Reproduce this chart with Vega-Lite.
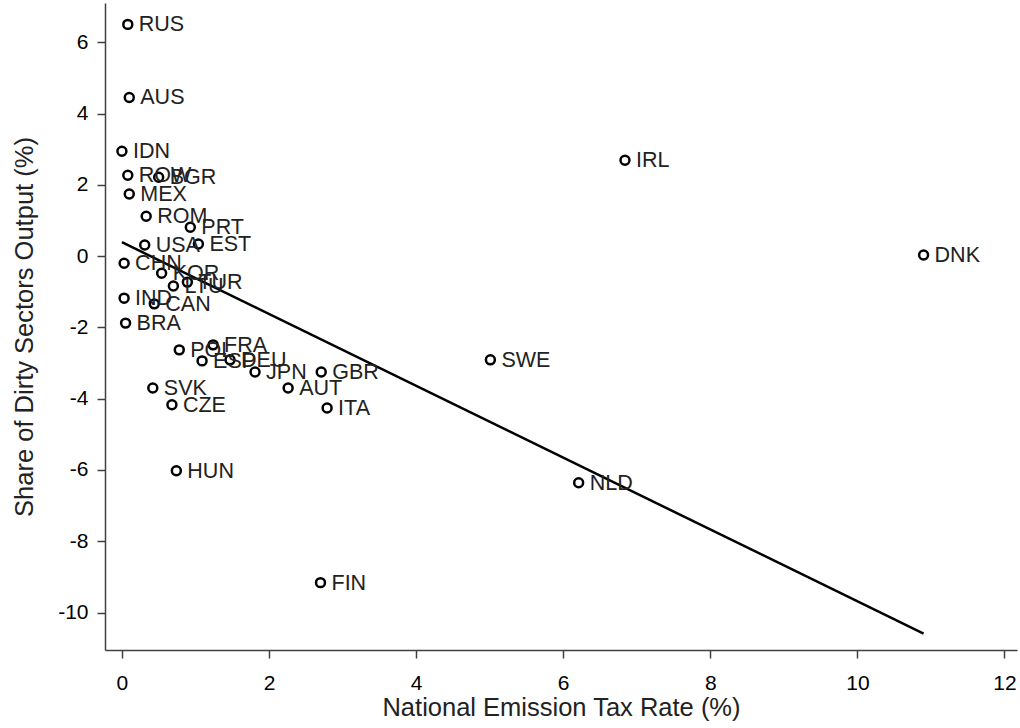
{
  "$schema": "https://vega.github.io/schema/vega-lite/v6.json",
  "width": 912,
  "height": 647,
  "autosize": {"type": "none"},
  "padding": {"left": 105, "top": 3, "right": 3, "bottom": 78},
  "background": "white",
  "config": {
    "view": {"stroke": null},
    "font": "Liberation Sans",
    "axis": {"grid": false, "domainColor": "#404040", "tickColor": "#404040", "domainWidth": 1.5, "tickWidth": 1.5, "tickSize": 8, "labelFont": "Liberation Sans", "titleFont": "Liberation Sans", "labelFontSize": 21, "titleFontSize": 25.5, "labelColor": "#000", "titleColor": "#222", "titleFontWeight": "normal"}
  },
  "datasets": {
    "pts": [
      {"c": "RUS", "x": 0.08, "y": 6.5},
      {"c": "AUS", "x": 0.1, "y": 4.45},
      {"c": "IDN", "x": 0.0, "y": 2.94},
      {"c": "ROW", "x": 0.08, "y": 2.27},
      {"c": "BGR", "x": 0.5, "y": 2.21},
      {"c": "MEX", "x": 0.1, "y": 1.74},
      {"c": "ROM", "x": 0.33, "y": 1.12},
      {"c": "PRT", "x": 0.93, "y": 0.81},
      {"c": "USA", "x": 0.31, "y": 0.31},
      {"c": "EST", "x": 1.04, "y": 0.34},
      {"c": "CHN", "x": 0.03, "y": -0.2},
      {"c": "KOR", "x": 0.54, "y": -0.48},
      {"c": "TUR", "x": 0.89, "y": -0.73},
      {"c": "LTU", "x": 0.7, "y": -0.84},
      {"c": "IND", "x": 0.03, "y": -1.18},
      {"c": "CAN", "x": 0.44, "y": -1.34},
      {"c": "BRA", "x": 0.05, "y": -1.88},
      {"c": "FRA", "x": 1.24, "y": -2.49},
      {"c": "POL", "x": 0.78, "y": -2.63},
      {"c": "ESP", "x": 1.09, "y": -2.94},
      {"c": "DEU", "x": 1.47, "y": -2.91},
      {"c": "JPN", "x": 1.81, "y": -3.25},
      {"c": "GBR", "x": 2.71, "y": -3.25},
      {"c": "AUT", "x": 2.26, "y": -3.7},
      {"c": "ITA", "x": 2.79, "y": -4.26},
      {"c": "SVK", "x": 0.42, "y": -3.7},
      {"c": "CZE", "x": 0.68, "y": -4.17},
      {"c": "HUN", "x": 0.74, "y": -6.02},
      {"c": "FIN", "x": 2.7, "y": -9.16},
      {"c": "NLD", "x": 6.21, "y": -6.36},
      {"c": "SWE", "x": 5.01, "y": -2.91},
      {"c": "IRL", "x": 6.84, "y": 2.69},
      {"c": "DNK", "x": 10.9, "y": 0.03}
    ],
    "fit": [
      {"x": 0.0, "y": 0.39},
      {"x": 10.9, "y": -10.59}
    ]
  },
  "layer": [
    {
      "data": {"name": "fit"},
      "mark": {"type": "line", "color": "#000", "strokeWidth": 2.5, "clip": true},
      "encoding": {
        "x": {"field": "x", "type": "quantitative", "scale": {"domain": [-0.23, 12.17], "nice": false, "zero": false},
          "axis": {"values": [0, 2, 4, 6, 8, 10, 12], "labelExpr": "'' + datum.value", "title": "National Emission Tax Rate (%)", "labelPadding": 14, "titlePadding": 2}},
        "y": {"field": "y", "type": "quantitative", "scale": {"domain": [-11.05, 7.1], "nice": false, "zero": false},
          "axis": {"values": [-10, -8, -6, -4, -2, 0, 2, 4, 6], "labelExpr": "'' + datum.value", "title": "Share of Dirty Sectors Output (%)", "labelPadding": 9, "titlePadding": 20}}
      }
    },
    {
      "data": {"name": "pts"},
      "mark": {"type": "point", "shape": "circle", "filled": false, "stroke": "#000", "strokeWidth": 2.5, "size": 80, "opacity": 1},
      "encoding": {
        "x": {"field": "x", "type": "quantitative"},
        "y": {"field": "y", "type": "quantitative"}
      }
    },
    {
      "data": {"name": "pts"},
      "mark": {"type": "text", "align": "left", "baseline": "middle", "dx": 11, "dy": 1, "fontSize": 21.5, "font": "Liberation Sans", "color": "#222"},
      "encoding": {
        "x": {"field": "x", "type": "quantitative"},
        "y": {"field": "y", "type": "quantitative"},
        "text": {"field": "c"}
      }
    }
  ]
}
